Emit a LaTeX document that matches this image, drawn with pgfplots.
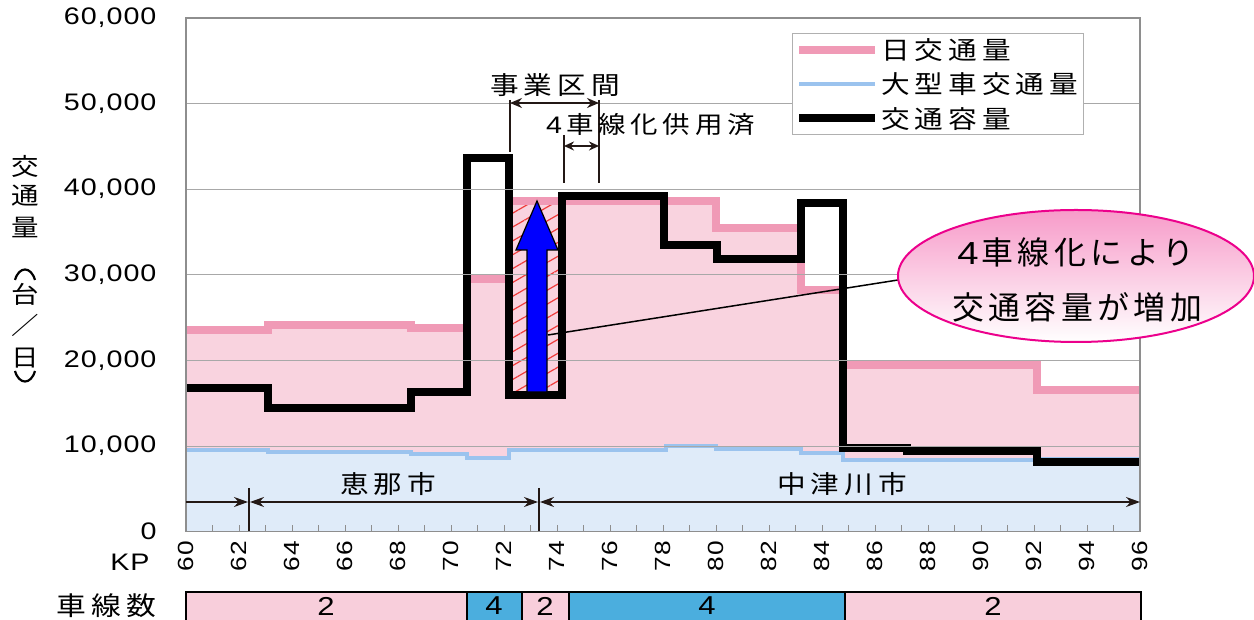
\documentclass[border=0pt]{standalone}
\usepackage{fontspec}
\setmainfont{Liberation Sans}[FakeStretch=1.2]
\newfontfamily\lat{Liberation Sans}[FakeStretch=1.2, LetterSpace=4]
\newfontfamily\jp{Noto Sans CJK JP}[FakeStretch=1.15, LetterSpace=20]
\newfontfamily\jpe{Noto Sans CJK JP}[LetterSpace=14]
\usepackage{pgfplots}
\pgfplotsset{compat=1.18}
\usetikzlibrary{patterns.meta, shapes.geometric, arrows.meta}
\definecolor{pinkfill}{HTML}{F9D3DF}
\definecolor{bluefill}{HTML}{DFEBF9}
\definecolor{pinkline}{HTML}{F09AB6}
\definecolor{blueline}{HTML}{9BC3EE}
\definecolor{gridgray}{HTML}{A8A8A8}
\definecolor{axisgray}{HTML}{8E8E8E}
\definecolor{lanepink}{HTML}{F8CEDB}
\definecolor{laneblue}{HTML}{4BAEDE}
\definecolor{hatchred}{HTML}{F03C3C}
\definecolor{ellpink}{HTML}{F79BC9}
\definecolor{annot}{HTML}{231815}
\definecolor{legendgray}{HTML}{B0B0B0}
\begin{document}
\begin{tikzpicture}
\begin{axis}[
  width=954bp, height=513.5bp, scale only axis,
  xmin=60, xmax=96, ymin=0, ymax=60000,
  axis on top,
  xtick={60,62,...,96},
  minor x tick num=1,
  ytick={0,10000,...,60000},
  tick pos=left,
  xtick align=inside,
  major tick length=7bp, minor tick length=7bp,
  x tick style={draw=axisgray, line width=1bp},
  y tick style={draw=none},
  ymajorgrids,
  grid style={draw=gridgray, line width=0.8bp},
  axis line style={draw=axisgray, line width=1.5bp},
  scaled y ticks=false,
  /pgf/number format/1000 sep={,},
  /pgf/number format/assume math mode=true,
  xticklabel style={rotate=90, anchor=east, font=\lat\fontsize{22}{22}\selectfont},
  xticklabel shift=6bp,
  yticklabel style={font=\lat\fontsize{24}{24}\selectfont},
  yticklabel shift=26bp,
  legend style={at={(0.635,0.971)}, anchor=north west, draw=legendgray, line width=1bp,
    fill=white, font=\jp\fontsize{25}{26}\selectfont, inner xsep=3bp, inner ysep=3bp,
    row sep=8bp, cells={anchor=west}},
  legend image code/.code={\draw[#1] (0bp,0bp) -- (76bp,0bp);},
]
% filled areas
\addplot[const plot, draw=none, fill=pinkfill, forget plot] coordinates {
 (60,23500) (63.1,24100) (68.5,23800) (70.6,29500) (72.2,38600) (80.0,35500)
 (83.2,28200) (84.8,19500) (92.1,16500) (96,16500)} \closedcycle;
\addplot[const plot, draw=none, fill=bluefill, forget plot] coordinates {
 (60,9560) (63.1,9280) (68.5,9090) (70.6,8580) (72.2,9560) (78.1,10040)
 (80.0,9650) (83.2,9150) (84.8,8370) (92.1,8480) (96,8480)} \closedcycle;
% hatch
\addplot[draw=none, pattern={Lines[angle=30,distance=12bp,line width=1.2bp]}, pattern color=hatchred, forget plot]
 coordinates {(72.2,16000) (74.2,16000) (74.2,38300) (72.2,38300)} -- cycle;
% lines
\addplot[const plot, draw=pinkline, line width=8bp, line join=miter] coordinates {
 (60,23500) (63.1,24100) (68.5,23800) (70.6,29500) (72.2,38600) (80.0,35500)
 (83.2,28200) (84.8,19500) (92.1,16500) (96,16500)};
\addlegendentry{日交通量}
\addplot[const plot, draw=blueline, line width=4bp, line join=miter] coordinates {
 (60,9560) (63.1,9280) (68.5,9090) (70.6,8580) (72.2,9560) (78.1,10040)
 (80.0,9650) (83.2,9150) (84.8,8370) (92.1,8480) (96,8480)};
\addlegendentry{大型車交通量}
\addplot[const plot, draw=black, line width=8bp, line join=miter] coordinates {
 (60,16800) (63.1,14400) (68.5,16350) (70.6,43600) (72.2,16000) (74.2,39150)
 (78.05,33500) (80.05,31800) (83.2,38350) (84.8,9700) (87.2,9350) (92.1,8150) (96,8150)};
\addlegendentry{交通容量}
\coordinate (O) at (axis cs:60,0);
\end{axis}
\begin{scope}[shift={(O)}, xshift=-186bp, yshift=531.5bp, x=1bp, y=-1bp]
% blue arrow
\draw[fill=blue, draw=black, line width=1.2bp, line join=miter]
 (527,392) -- (527,250) -- (516,250) -- (537,201) -- (558,250) -- (547,250) -- (547,392) -- cycle;
% pointer and ellipse
\draw[black, line width=1.5bp] (548,335) -- (898,280);
\node[ellipse, minimum width=356bp, minimum height=132bp, inner sep=0pt, draw=magenta,
  line width=2bp, top color=ellpink, bottom color=white] at (1076,276) {};
\node[font=\jpe\fontsize{32}{32}\selectfont] at (1076,252) {{\lat\fontsize{32}{32}\selectfont 4}\kern3bp 車線化により};
\node[font=\jpe\fontsize{32}{32}\selectfont] at (1077,307) {交通容量が増加};
% project section brackets
\draw[annot, line width=1.8bp] (510,100) -- (510,152);
\draw[annot, line width=1.8bp] (599,100) -- (599,183);
\draw[annot, line width=1.8bp] (564,135) -- (564,183);
\draw[annot, line width=1.8bp, {Stealth[length=12bp,width=10bp]}-{Stealth[length=12bp,width=10bp]}] (510,103) -- (599,103);
\draw[annot, line width=1.8bp, {Stealth[length=10bp,width=9bp]}-{Stealth[length=10bp,width=9bp]}] (564,146) -- (599,146);
\node[font=\jp\fontsize{25}{25}\selectfont] at (555,85) {事業区間};
\node[font=\jp\fontsize{24}{24}\selectfont, anchor=west, inner sep=0pt] at (546,125) {{\lat\fontsize{24}{24}\selectfont 4}\kern4bp 車線化供用済};
% city arrows
\draw[annot, line width=1.5bp] (249,488) -- (249,531);
\draw[annot, line width=1.5bp] (539,488) -- (539,531);
\draw[annot, line width=1.5bp, -{Stealth[length=14bp,width=10bp]}] (186,502) -- (248,502);
\draw[annot, line width=1.5bp, {Stealth[length=14bp,width=10bp]}-{Stealth[length=14bp,width=10bp]}] (250,502) -- (538,502);
\draw[annot, line width=1.5bp, {Stealth[length=14bp,width=10bp]}-{Stealth[length=14bp,width=10bp]}] (540,502) -- (1140,502);
\node[font=\jp\fontsize{25}{25}\selectfont] at (388,484) {恵那市};
\node[font=\jp\fontsize{25}{25}\selectfont] at (842,484) {中津川市};
% y axis title
\foreach \c/\yy in {交/166, 通/196, 量/228, 台/294, ／/325, 日/358}
  \node[font=\jp\fontsize{24}{24}\selectfont, inner sep=0pt] at (25,\yy) {\c};
\draw[black, line width=2.2bp] (15,280) .. controls (19,266) and (31,266) .. (35,280);
\draw[black, line width=2.2bp] (15,371) .. controls (19,385) and (31,385) .. (35,371);
% KP
\node[font=\lat\fontsize{24}{24}\selectfont] at (130,562) {KP};
% lane boxes
\node[font=\jp\fontsize{26}{26}\selectfont] at (106,606) {車線数};
\draw[black, line width=1.5bp, fill=lanepink] (186,592) rectangle (467,625);
\draw[black, line width=1.5bp, fill=laneblue] (467,592) rectangle (522,625);
\draw[black, line width=1.5bp, fill=lanepink] (522,592) rectangle (569,625);
\draw[black, line width=1.5bp, fill=laneblue] (569,592) rectangle (845,625);
\draw[black, line width=1.5bp, fill=lanepink] (845,592) rectangle (1141,625);
\foreach \xx/\nn in {326/2, 494/4, 545/2, 707/4, 993/2}
  \node[font=\lat\fontsize{26}{26}\selectfont, inner sep=0pt] at (\xx,606) {\nn};
\pgfresetboundingbox
\path[use as bounding box] (0,0) rectangle (1254,620);
\end{scope}
\end{tikzpicture}
\end{document}
